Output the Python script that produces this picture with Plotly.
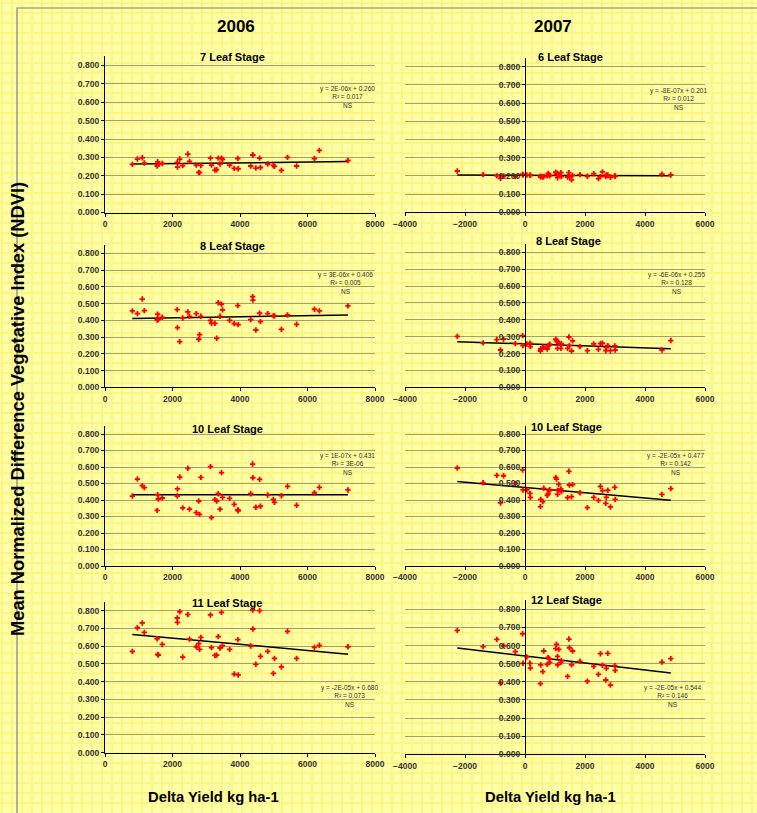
import numpy as np
import plotly.graph_objects as go

# ---------------- data ----------------
x_2006 = [810, 960, 1105, 1165, 1545, 1560, 1580, 1697, 2140, 2147, 2215, 2303, 2455, 2503, 2704,
          2778, 2802, 2841, 3125, 3154, 3257, 3310, 3355, 3408, 3452, 3482, 3692, 3828, 3935, 3946,
          4318, 4376, 4382, 4470, 4582, 4606, 4822, 4988, 5022, 5227, 5408, 5677, 6205, 6352, 7198]

ndvi_2006_7leaf = [0.262, 0.291, 0.298, 0.269, 0.253, 0.276, 0.262, 0.267, 0.273, 0.247, 0.291, 0.255,
                   0.318, 0.278, 0.258, 0.218, 0.217, 0.256, 0.296, 0.258, 0.231, 0.233, 0.296, 0.264,
                   0.296, 0.289, 0.258, 0.240, 0.294, 0.238, 0.253, 0.314, 0.312, 0.242, 0.296, 0.245,
                   0.264, 0.256, 0.251, 0.229, 0.300, 0.253, 0.294, 0.338, 0.283]
ndvi_2006_8leaf = [0.456, 0.440, 0.527, 0.458, 0.402, 0.436, 0.406, 0.418, 0.464, 0.356, 0.273, 0.414,
                   0.450, 0.424, 0.440, 0.287, 0.314, 0.424, 0.400, 0.382, 0.382, 0.293, 0.505, 0.424,
                   0.496, 0.462, 0.400, 0.380, 0.488, 0.374, 0.404, 0.541, 0.521, 0.342, 0.442, 0.392,
                   0.440, 0.428, 0.426, 0.346, 0.432, 0.376, 0.466, 0.456, 0.486]
ndvi_2006_10leaf = [0.424, 0.527, 0.487, 0.475, 0.337, 0.432, 0.406, 0.412, 0.424, 0.467, 0.539, 0.352,
                    0.592, 0.345, 0.323, 0.394, 0.313, 0.537, 0.602, 0.293, 0.402, 0.394, 0.438, 0.345,
                    0.566, 0.416, 0.410, 0.374, 0.341, 0.335, 0.438, 0.618, 0.535, 0.356, 0.525, 0.362,
                    0.430, 0.404, 0.386, 0.426, 0.483, 0.368, 0.444, 0.477, 0.461]
ndvi_2006_11leaf = [0.571, 0.704, 0.731, 0.678, 0.642, 0.554, 0.550, 0.610, 0.759, 0.734, 0.794, 0.539,
                    0.779, 0.640, 0.597, 0.614, 0.582, 0.650, 0.776, 0.592, 0.548, 0.550, 0.654, 0.590,
                    0.791, 0.603, 0.582, 0.443, 0.637, 0.438, 0.601, 0.804, 0.697, 0.498, 0.800, 0.543,
                    0.571, 0.447, 0.531, 0.483, 0.684, 0.531, 0.593, 0.605, 0.597]

x_2007 = [-2257, -1397, -939, -816, -715, -324, -78, -67, 60, 165, 179, 514, 525, 592, 626, 740, 771,
          800, 825, 1025, 1050, 1084, 1090, 1125, 1196, 1210, 1419, 1464, 1480, 1553, 1587, 1832, 2078,
          2291, 2447, 2514, 2581, 2693, 2710, 2760, 2849, 2994, 3006, 4565, 4860]

ndvi_2007_6leaf = [0.227, 0.207, 0.200, 0.187, 0.198, 0.196, 0.209, 0.205, 0.205, 0.205, 0.203, 0.198,
                   0.194, 0.194, 0.196, 0.200, 0.214, 0.207, 0.200, 0.220, 0.209, 0.190, 0.214, 0.205,
                   0.218, 0.196, 0.194, 0.218, 0.196, 0.178, 0.203, 0.207, 0.198, 0.212, 0.185, 0.196,
                   0.222, 0.196, 0.205, 0.205, 0.192, 0.200, 0.198, 0.209, 0.205]
ndvi_2007_8leaf = [0.302, 0.263, 0.283, 0.221, 0.285, 0.259, 0.306, 0.247, 0.257, 0.261, 0.241, 0.215,
                   0.227, 0.237, 0.237, 0.227, 0.245, 0.250, 0.255, 0.285, 0.275, 0.231, 0.271, 0.261,
                   0.231, 0.258, 0.231, 0.298, 0.247, 0.215, 0.275, 0.241, 0.217, 0.257, 0.225, 0.259,
                   0.261, 0.217, 0.235, 0.247, 0.217, 0.245, 0.221, 0.221, 0.277]
ndvi_2007_10leaf = [0.594, 0.505, 0.549, 0.382, 0.547, 0.501, 0.582, 0.461, 0.461, 0.440, 0.416, 0.360,
                    0.404, 0.390, 0.471, 0.428, 0.438, 0.455, 0.462, 0.537, 0.527, 0.434, 0.459, 0.495,
                    0.467, 0.451, 0.414, 0.574, 0.491, 0.420, 0.493, 0.444, 0.354, 0.416, 0.398, 0.483,
                    0.457, 0.380, 0.416, 0.459, 0.358, 0.477, 0.404, 0.434, 0.469]
ndvi_2007_12leaf = [0.684, 0.594, 0.634, 0.392, 0.599, 0.566, 0.665, 0.502, 0.537, 0.502, 0.476, 0.390,
                    0.493, 0.456, 0.570, 0.496, 0.535, 0.526, 0.507, 0.583, 0.607, 0.540, 0.493, 0.579,
                    0.507, 0.517, 0.430, 0.636, 0.588, 0.494, 0.570, 0.513, 0.403, 0.485, 0.441, 0.555,
                    0.491, 0.410, 0.474, 0.557, 0.382, 0.489, 0.463, 0.509, 0.528]

stage_titles_2006 = ["7 Leaf Stage", "8 Leaf Stage", "10 Leaf Stage", "11 Leaf Stage"]
stage_titles_2007 = ["6 Leaf Stage", "8 Leaf Stage", "10 Leaf Stage", "12 Leaf Stage"]
equations_2006 = ["y = 2E-06x + 0.260", "y = 3E-06x + 0.406", "y = 1E-07x + 0.431", "y = -2E-05x + 0.680"]
r2_2006 = ["R² = 0.017", "R² = 0.005", "R² = 3E-06", "R² = 0.073"]
equations_2007 = ["y = -8E-07x + 0.201", "y = -6E-06x + 0.255", "y = -2E-05x + 0.477", "y = -2E-05x + 0.544"]
r2_2007 = ["R² = 0.012", "R² = 0.128", "R² = 0.142", "R² = 0.146"]
significance = "NS"
year_labels = ["2006", "2007"]
x_title = "Delta Yield kg ha-1"
y_title = "Mean Normalized Difference Vegetative Index (NDVI)"

# ---------------- layout geometry (pixels) ----------------
W, H = 757, 813
FONT = "Liberation Sans"
GRID = "#a3a070"
BG = "#ffffa8"
BGGRID = "#fdf684"

def fx(p):
    return p / W

def fy(p):
    return 1 - p / H

col_px = [(105, 375, [0, 8000]), (405, 705, [-4000, 6000])]
# (row, col, y0px, y08px, title(x,y), eq(x,y))
panel_geo = [
    (0, 0, 212.5, 65.5, (232, 57), (347, 96.7)),
    (1, 0, 387.3, 253.3, (232, 246), (345, 282.5)),
    (2, 0, 566.0, 434.0, (227, 429), (347, 463.5)),
    (3, 0, 752.7, 610.7, (227, 603), (349, 695.5)),
    (0, 1, 212.3, 66.7, (570, 57), (678, 99)),
    (1, 1, 387.3, 252.3, (568, 241), (676, 283)),
    (2, 1, 566.0, 434.0, (566, 427), (675, 464)),
    (3, 1, 754.3, 609.3, (566, 600), (672, 696)),
]
series = [ndvi_2006_7leaf, ndvi_2006_8leaf, ndvi_2006_10leaf, ndvi_2006_11leaf,
          ndvi_2007_6leaf, ndvi_2007_8leaf, ndvi_2007_10leaf, ndvi_2007_12leaf]
titles = stage_titles_2006 + stage_titles_2007
eqs = equations_2006 + equations_2007
r2s = r2_2006 + r2_2007
YTOP = 0.85
TICKFONT = dict(size=8.5, family=FONT, color="#333333", weight="bold")

fig = go.Figure()
layout = dict(
    template="none",
    width=W, height=H, margin=dict(l=0, r=0, t=0, b=0, pad=0, autoexpand=False),
    paper_bgcolor=BG, plot_bgcolor="rgba(0,0,0,0)", showlegend=False,
    font=dict(family=FONT, color="#333333"),
    # background graph-paper grid
    xaxis=dict(domain=[0, 1], range=[0, W], dtick=10, tick0=2, showgrid=True, gridcolor=BGGRID,
               gridwidth=1.5, showticklabels=False, zeroline=False, showline=False, ticks="",
               fixedrange=True, automargin=False),
    yaxis=dict(domain=[0, 1], range=[H, 0], dtick=10, tick0=3, showgrid=True, gridcolor=BGGRID,
               gridwidth=1.5, showticklabels=False, zeroline=False, showline=False, ticks="",
               fixedrange=True, automargin=False),
)
fig.add_trace(go.Scatter(x=[], y=[], xaxis="x", yaxis="y", hoverinfo="skip"))

annotations = []
for i, (row, col, y0p, y8p, tpos, epos) in enumerate(panel_geo):
    k = i + 2
    xs = x_2006 if col == 0 else x_2007
    ys = series[i]
    x0p, x1p, xr = col_px[col]
    toppx = y0p - (y0p - y8p) * YTOP / 0.8
    xdom = [fx(x0p), fx(x1p)]
    ydom = [fy(y0p), fy(toppx)]
    xa = dict(domain=xdom, range=xr, anchor=f"y{k}", dtick=2000, tick0=0, showgrid=False,
              zeroline=False, showline=True, linecolor="black", linewidth=1.3, ticks="outside",
              ticklen=3, tickcolor="black", tickfont=TICKFONT, automargin=False)
    ya = dict(domain=ydom, range=[0, YTOP], dtick=0.1, tick0=0, tickformat=".3f", showgrid=True,
              gridcolor=GRID, gridwidth=1, zeroline=False, showline=True, linecolor="black",
              linewidth=1.3, ticks="outside", ticklen=3, tickcolor="black",
              tickfont=TICKFONT, automargin=False)
    if col == 0:
        ya["anchor"] = f"x{k}"
    else:
        ya["anchor"] = "free"
        ya["position"] = xdom[0] + (0 - xr[0]) / (xr[1] - xr[0]) * (xdom[1] - xdom[0])
    layout[f"xaxis{k}"] = xa
    layout[f"yaxis{k}"] = ya

    # trend line fitted from the data
    slope, icpt = np.polyfit(xs, ys, 1)
    xl = [min(xs), max(xs)]
    fig.add_trace(go.Scatter(x=xl, y=[slope * v + icpt for v in xl], mode="lines",
                             line=dict(color="black", width=1.5), xaxis=f"x{k}", yaxis=f"y{k}",
                             hoverinfo="skip"))
    fig.add_trace(go.Scatter(x=xs, y=ys, mode="markers", xaxis=f"x{k}", yaxis=f"y{k}",
                             marker=dict(symbol="cross", size=4.5, color="#ff0000",
                                         line=dict(width=0))))

    annotations.append(dict(text=f"<b>{titles[i]}</b>", x=fx(tpos[0]), y=fy(tpos[1]), xref="paper",
                            yref="paper", showarrow=False, xanchor="center", yanchor="middle",
                            font=dict(size=11, family=FONT, color="black")))
    annotations.append(dict(text=f"{eqs[i]}<br>{r2s[i]}<br>{significance}", x=fx(epos[0]),
                            y=fy(epos[1]), xref="paper", yref="paper", showarrow=False,
                            xanchor="center", yanchor="middle", align="center",
                            font=dict(size=6.5, family=FONT, color="#333333")))

# column headers
for txt, px in zip(year_labels, [236, 553]):
    annotations.append(dict(text=f"<b>{txt}</b>", x=fx(px), y=fy(27), xref="paper", yref="paper",
                            showarrow=False, xanchor="center", yanchor="middle",
                            font=dict(size=17, family=FONT, color="black")))
# x titles
for px in [213, 550]:
    annotations.append(dict(text=f"<b>{x_title}</b>", x=fx(px), y=fy(797), xref="paper", yref="paper",
                            showarrow=False, xanchor="center", yanchor="middle",
                            font=dict(size=14.8, family=FONT, color="black")))
# y title
annotations.append(dict(text=f"<b>{y_title}</b>", x=fx(18), y=fy(409), xref="paper", yref="paper",
                        showarrow=False, xanchor="center", yanchor="middle", textangle=-90,
                        font=dict(size=18.3, family=FONT, color="black")))

layout["annotations"] = annotations
layout["shapes"] = [dict(type="rect", xref="paper", yref="paper", x0=fx(17), y0=fy(8), x1=1.02, y1=-0.02,
                         line=dict(color="#808080", width=1.2), fillcolor="rgba(0,0,0,0)")]
fig.update_layout(**layout)
fig.write_html("out.html", config={"displayModeBar": False},
               post_script="document.body.style.margin='0px';document.body.style.overflow='hidden';")
